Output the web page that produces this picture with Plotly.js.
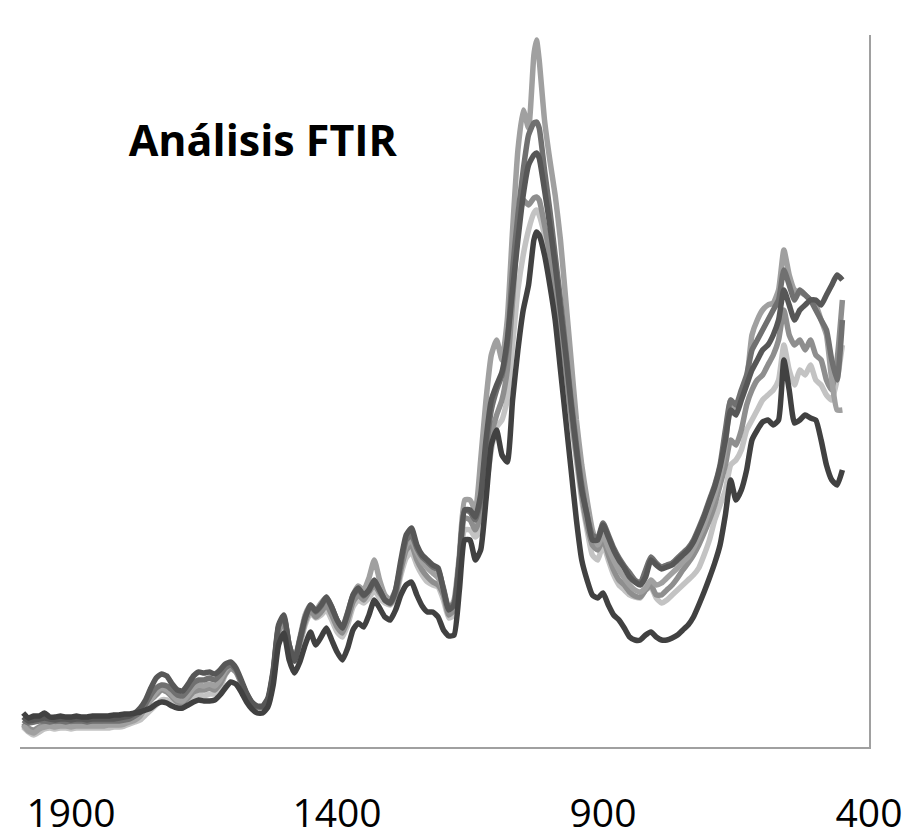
<!DOCTYPE html>
<html>
<head>
<meta charset="utf-8">
<script src="https://cdn.plot.ly/plotly-3.0.1.min.js"></script>
<style>html,body{margin:0;padding:0;background:#fff;}#chart{width:907px;height:839px;}</style>
</head>
<body>
<div id="chart"></div>
<script>
// Wavenumber (cm-1)
const wavenumber = [1990,1980,1970,1960,1950,1940,1930,1920,1910,1900,1890,1880,1870,1860,1850,1840,1830,1820,1810,
1800,1790,1780,1770,1760,1750,1740,1730,1720,1710,1700,1690,1680,1670,1660,1650,1640,1630,1620,1610,1600,1590,1580,1570,1560,1550,1540,1530,1520,1510,1500,1490,1480,1470,1460,1450,1440,1430,1420,1410,1400,1390,1380,1370,1360,1350,1340,1330,1320,1310,1300,1290,1280,1270,1260,1250,1240,1230,1220,1210,1200,1190,1180,1170,1160,1150,1140,1130,1120,1110,1100,1090,1080,1070,1060,1050,1040,1030,1025,1020,1010,1000,990,980,970,960,950,940,930,920,910,900,890,880,870,860,850,840,830,820,810,800,790,780,770,760,750,740,730,720,710,700,690,680,670,660,650,640,630,620,610,600,590,580,570,560,550,540,530,520,510,500,490,480,470,460,450];

const serieA = [0.034,0.029,0.031,0.031,0.034,0.030,0.030,0.031,0.030,0.030,0.031,0.030,0.030,0.031,0.031,0.031,0.031,0.032,0.032,
0.033,0.033,0.034,0.035,0.037,0.039,0.043,0.045,0.044,0.041,0.039,0.039,0.042,0.045,0.047,0.046,0.046,0.047,0.052,0.059,0.065,0.063,0.055,0.045,0.038,0.034,0.034,0.040,0.062,0.102,0.114,0.087,0.074,0.085,0.102,0.115,0.102,0.110,0.119,0.107,0.095,0.087,0.099,0.117,0.124,0.120,0.132,0.147,0.139,0.130,0.127,0.137,0.152,0.162,0.165,0.152,0.141,0.135,0.135,0.130,0.117,0.111,0.112,0.157,0.207,0.207,0.187,0.197,0.247,0.302,0.317,0.292,0.285,0.347,0.397,0.437,0.462,0.507,0.515,0.512,0.492,0.462,0.427,0.377,0.327,0.277,0.227,0.187,0.167,0.152,0.149,0.154,0.142,0.132,0.127,0.119,0.110,0.107,0.107,0.112,0.115,0.110,0.107,0.107,0.109,0.112,0.117,0.122,0.130,0.142,0.155,0.169,0.184,0.202,0.232,0.267,0.247,0.257,0.277,0.307,0.317,0.325,0.327,0.322,0.327,0.387,0.357,0.324,0.327,0.332,0.329,0.327,0.307,0.282,0.267,0.262,0.277];

const serieB = [0.030,0.026,0.027,0.028,0.029,0.028,0.027,0.028,0.028,0.027,0.028,0.028,0.027,0.028,0.028,0.028,0.028,0.028,0.029,
0.030,0.031,0.034,0.039,0.047,0.059,0.069,0.073,0.071,0.063,0.057,0.056,0.063,0.071,0.075,0.074,0.075,0.073,0.077,0.083,0.085,0.079,0.067,0.054,0.045,0.041,0.041,0.049,0.077,0.122,0.132,0.102,0.086,0.107,0.129,0.142,0.136,0.142,0.150,0.140,0.127,0.119,0.134,0.152,0.159,0.152,0.157,0.167,0.157,0.147,0.144,0.157,0.187,0.212,0.219,0.202,0.192,0.187,0.182,0.179,0.157,0.137,0.142,0.187,0.237,0.237,0.230,0.252,0.307,0.347,0.362,0.375,0.407,0.457,0.507,0.552,0.582,0.592,0.594,0.589,0.557,0.522,0.482,0.437,0.392,0.342,0.297,0.257,0.232,0.207,0.207,0.222,0.210,0.197,0.187,0.179,0.170,0.165,0.162,0.170,0.187,0.182,0.178,0.180,0.182,0.187,0.192,0.197,0.205,0.217,0.230,0.245,0.260,0.280,0.307,0.337,0.332,0.347,0.362,0.377,0.387,0.397,0.402,0.412,0.427,0.457,0.442,0.427,0.437,0.442,0.447,0.447,0.442,0.452,0.462,0.472,0.467];

const serieC = [0.027,0.024,0.025,0.026,0.026,0.025,0.026,0.026,0.025,0.026,0.026,0.026,0.025,0.026,0.026,0.026,0.026,0.026,0.026,
0.027,0.028,0.031,0.035,0.043,0.052,0.059,0.062,0.061,0.057,0.052,0.051,0.057,0.064,0.067,0.067,0.069,0.067,0.072,0.079,0.082,0.077,0.065,0.053,0.044,0.040,0.040,0.047,0.075,0.120,0.130,0.102,0.086,0.107,0.129,0.141,0.135,0.141,0.149,0.139,0.127,0.119,0.133,0.151,0.158,0.151,0.157,0.165,0.157,0.147,0.144,0.155,0.182,0.207,0.212,0.199,0.190,0.185,0.180,0.177,0.159,0.139,0.144,0.187,0.237,0.235,0.227,0.247,0.297,0.337,0.357,0.372,0.402,0.477,0.532,0.577,0.612,0.624,0.625,0.619,0.577,0.537,0.492,0.447,0.397,0.347,0.302,0.262,0.232,0.212,0.209,0.224,0.212,0.199,0.189,0.181,0.174,0.167,0.164,0.177,0.190,0.184,0.180,0.182,0.184,0.189,0.194,0.199,0.207,0.219,0.232,0.247,0.262,0.282,0.317,0.347,0.342,0.357,0.372,0.397,0.407,0.417,0.427,0.437,0.447,0.477,0.462,0.447,0.457,0.452,0.447,0.437,0.427,0.417,0.387,0.367,0.427];

const serieD = [0.022,0.016,0.014,0.018,0.020,0.021,0.020,0.021,0.021,0.020,0.021,0.021,0.021,0.021,0.021,0.021,0.022,0.022,0.022,
0.023,0.025,0.027,0.031,0.039,0.047,0.055,0.059,0.057,0.052,0.047,0.046,0.052,0.059,0.062,0.061,0.063,0.061,0.067,0.077,0.082,0.077,0.065,0.053,0.044,0.040,0.040,0.047,0.074,0.119,0.129,0.102,0.087,0.109,0.132,0.142,0.137,0.144,0.150,0.140,0.127,0.120,0.135,0.152,0.161,0.157,0.169,0.187,0.167,0.152,0.147,0.157,0.182,0.202,0.207,0.195,0.185,0.179,0.174,0.169,0.157,0.137,0.147,0.192,0.247,0.247,0.237,0.287,0.347,0.392,0.407,0.387,0.427,0.517,0.597,0.637,0.619,0.692,0.707,0.687,0.627,0.587,0.552,0.507,0.447,0.387,0.327,0.282,0.247,0.217,0.202,0.212,0.199,0.187,0.177,0.169,0.162,0.157,0.155,0.159,0.167,0.162,0.164,0.169,0.174,0.179,0.185,0.190,0.199,0.210,0.222,0.237,0.252,0.272,0.302,0.347,0.337,0.352,0.367,0.412,0.427,0.437,0.442,0.444,0.457,0.497,0.472,0.457,0.455,0.452,0.447,0.442,0.427,0.412,0.367,0.337,0.337];

const serieE = [0.024,0.019,0.017,0.020,0.022,0.023,0.022,0.023,0.023,0.022,0.023,0.023,0.023,0.023,0.023,0.023,0.023,0.024,0.024,
0.025,0.026,0.029,0.033,0.040,0.047,0.052,0.057,0.055,0.050,0.045,0.044,0.049,0.055,0.057,0.057,0.059,0.057,0.063,0.073,0.079,0.075,0.064,0.053,0.044,0.040,0.040,0.047,0.072,0.115,0.125,0.099,0.087,0.104,0.125,0.137,0.130,0.135,0.142,0.132,0.120,0.114,0.127,0.145,0.152,0.147,0.155,0.162,0.154,0.147,0.143,0.152,0.177,0.197,0.202,0.187,0.177,0.170,0.165,0.162,0.152,0.132,0.137,0.182,0.229,0.227,0.217,0.232,0.277,0.312,0.332,0.347,0.377,0.447,0.517,0.547,0.542,0.549,0.550,0.547,0.522,0.492,0.457,0.417,0.377,0.332,0.292,0.252,0.222,0.202,0.197,0.207,0.192,0.177,0.167,0.162,0.155,0.151,0.150,0.157,0.162,0.152,0.152,0.157,0.162,0.169,0.177,0.184,0.192,0.202,0.214,0.227,0.242,0.262,0.282,0.307,0.302,0.317,0.342,0.357,0.367,0.372,0.382,0.392,0.407,0.437,0.412,0.402,0.407,0.397,0.407,0.392,0.387,0.367,0.357,0.387,0.447];

const serieF = [0.020,0.015,0.012,0.015,0.018,0.019,0.018,0.019,0.019,0.018,0.019,0.019,0.019,0.019,0.019,0.019,0.019,0.020,0.020,
0.021,0.023,0.025,0.027,0.032,0.037,0.042,0.047,0.047,0.044,0.042,0.042,0.045,0.049,0.052,0.051,0.053,0.053,0.059,0.072,0.079,0.075,0.064,0.053,0.044,0.040,0.040,0.047,0.069,0.112,0.122,0.099,0.087,0.102,0.122,0.134,0.129,0.132,0.137,0.127,0.115,0.110,0.122,0.140,0.147,0.144,0.149,0.157,0.149,0.144,0.142,0.149,0.172,0.189,0.195,0.182,0.172,0.165,0.162,0.160,0.147,0.129,0.132,0.177,0.217,0.217,0.210,0.217,0.257,0.297,0.320,0.327,0.347,0.402,0.457,0.492,0.517,0.534,0.537,0.532,0.512,0.485,0.452,0.412,0.372,0.327,0.287,0.247,0.217,0.192,0.187,0.202,0.187,0.172,0.162,0.157,0.152,0.150,0.149,0.157,0.160,0.149,0.144,0.147,0.152,0.157,0.162,0.167,0.172,0.179,0.192,0.207,0.227,0.242,0.257,0.282,0.287,0.297,0.317,0.327,0.337,0.347,0.352,0.357,0.367,0.402,0.377,0.362,0.377,0.372,0.382,0.367,0.362,0.352,0.347,0.367,0.402];

const series = [
  {name: 'Muestra 6', y: serieF, color: '#c3c3c3'},
  {name: 'Muestra 5', y: serieE, color: '#8e8e8e'},
  {name: 'Muestra 4', y: serieD, color: '#a0a0a0'},
  {name: 'Muestra 3', y: serieC, color: '#707070'},
  {name: 'Muestra 2', y: serieB, color: '#575757'},
  {name: 'Muestra 1', y: serieA, color: '#414141'}
];

const tickValues = [1900, 1400, 900, 400];
const tickLabels = ['1900', '1400', '900', '400'];

const traces = series.map(s => ({
  type: 'scatter', mode: 'lines', x: wavenumber, y: s.y, name: s.name,
  line: {color: s.color, width: 5.5, shape: 'spline', smoothing: 0.5}, hoverinfo: 'skip'
}));

const layout = {
  width: 907, height: 839,
  margin: {l: 20, r: 38, t: 35, b: 92},
  paper_bgcolor: '#ffffff', plot_bgcolor: '#ffffff',
  showlegend: false,
  title: {
    text: '<b>Análisis FTIR</b>',
    font: {family: 'Open Sans, sans-serif', size: 43, color: '#000000'},
    x: 0.286, xanchor: 'center', xref: 'paper',
    y: 0.832, yanchor: 'middle', yref: 'container'
  },
  xaxis: {
    range: [1996, 400], showgrid: false, zeroline: false,
    showline: true, linecolor: '#a0a0a0', linewidth: 1.5,
    tickmode: 'array', tickvals: tickValues, ticktext: tickLabels,
    ticks: 'outside', ticklen: 32, tickcolor: 'rgba(0,0,0,0)',
    tickfont: {family: 'Open Sans, sans-serif', size: 39, color: '#000000'}
  },
  yaxis: {
    range: [0, 0.712], side: 'right', showgrid: false, zeroline: false,
    showline: true, linecolor: '#a0a0a0', linewidth: 1.5,
    showticklabels: false, ticks: ''
  }
};

Plotly.newPlot('chart', traces, layout, {displayModeBar: false, staticPlot: true});
</script>
</body>
</html>
